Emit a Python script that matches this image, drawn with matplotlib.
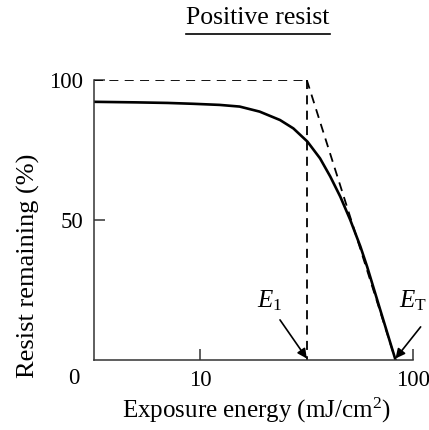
import matplotlib
matplotlib.use("Agg")
import matplotlib.pyplot as plt
from matplotlib.lines import Line2D

plt.rcParams['font.family'] = ['Liberation Serif', 'DejaVu Serif']
plt.rcParams['mathtext.fontset'] = 'custom'
plt.rcParams['mathtext.rm'] = 'Liberation Serif'
plt.rcParams['mathtext.it'] = 'Liberation Serif:italic'

energy = [3.15, 5, 7, 9.2, 12.3, 15.3, 19.0, 23.7, 27.4, 31.9, 36.6, 40.9,
          45.6, 50.8, 56.7, 61.0, 70.5, 83]
remaining = [92.2, 92.0, 91.8, 91.5, 91.1, 90.5, 88.7, 85.7, 82.7, 78.0, 72.0,
             65.5, 58.3, 50.0, 40.5, 33.3, 17.6, 0]

# idealised (dashed) response
e_start = 3.15
e1 = 31.7
et = 83
full = 100

xticks = [10, 100]
xticklabels = ["10", "100"]
yticks = [50, 100]
yticklabels = ["50", "100"]

fig = plt.figure(figsize=(4.29, 4.30), dpi=100)
ax = fig.add_axes([0.219, 0.163, 0.743, 0.651])

ax.plot(energy, remaining, color='black', lw=1.9, solid_joinstyle='round')

dash = dict(color='black', lw=1.3, linestyle=(0, (5, 3.5)))
ax.plot([e_start, e1], [full, full], **dash)
ax.plot([e1, e1], [full, 0], **dash)
ax.plot([e1, et], [full, 0], **dash)

ax.set_xscale('log')
ax.set_xlim(3.15, 100)
ax.set_ylim(0, 100)

for s in ['top', 'right']:
    ax.spines[s].set_visible(False)
for s in ['left', 'bottom']:
    ax.spines[s].set_linewidth(1.1)
    ax.spines[s].set_color('#333333')

ax.set_xticks(xticks)
ax.set_xticklabels(xticklabels)
ax.xaxis.set_minor_locator(matplotlib.ticker.NullLocator())
ax.set_yticks(yticks)
ax.set_yticklabels(yticklabels)
ax.tick_params(direction='in', length=8, width=1.1, color='#333333',
               labelsize=16.5, pad=7)
ax.tick_params(axis='y', pad=8)
ax.text(-0.045, -0.03, "0", transform=ax.transAxes, fontsize=16.5,
        ha='right', va='top')

arrow = dict(arrowstyle='-|>', color='black', lw=1.2, mutation_scale=14,
             shrinkA=0, shrinkB=0)
ax.annotate("", xy=(e1, 0.5), xytext=(23.7, 14.3), arrowprops=arrow,
            annotation_clip=False)
ax.annotate("", xy=(et, 0.5), xytext=(109, 11.8), arrowprops=arrow,
            annotation_clip=False)
ax.text(21.2, 21, "$E_1$", fontsize=18, ha='center', va='center')
ax.text(86, 21, "$E_\\mathrm{T}$", fontsize=18, ha='left', va='center',
        clip_on=False)

fig.text(258 / 429, 1 - 18 / 430, "Positive resist", fontsize=18.5,
         ha='center', va='center')
fig.add_artist(Line2D([186 / 429, 330 / 429], [1 - 34 / 430, 1 - 34 / 430],
                      color='black', lw=1.2, transform=fig.transFigure))
fig.text(256 / 429, 1 - 410 / 430, "Exposure energy (mJ/cm$^2$)",
         fontsize=18, ha='center', va='center')
fig.text(28 / 429, 1 - 266 / 430, "Resist remaining (%)", fontsize=19,
         rotation=90, ha='center', va='center')

fig.savefig("out.png", dpi=100)
